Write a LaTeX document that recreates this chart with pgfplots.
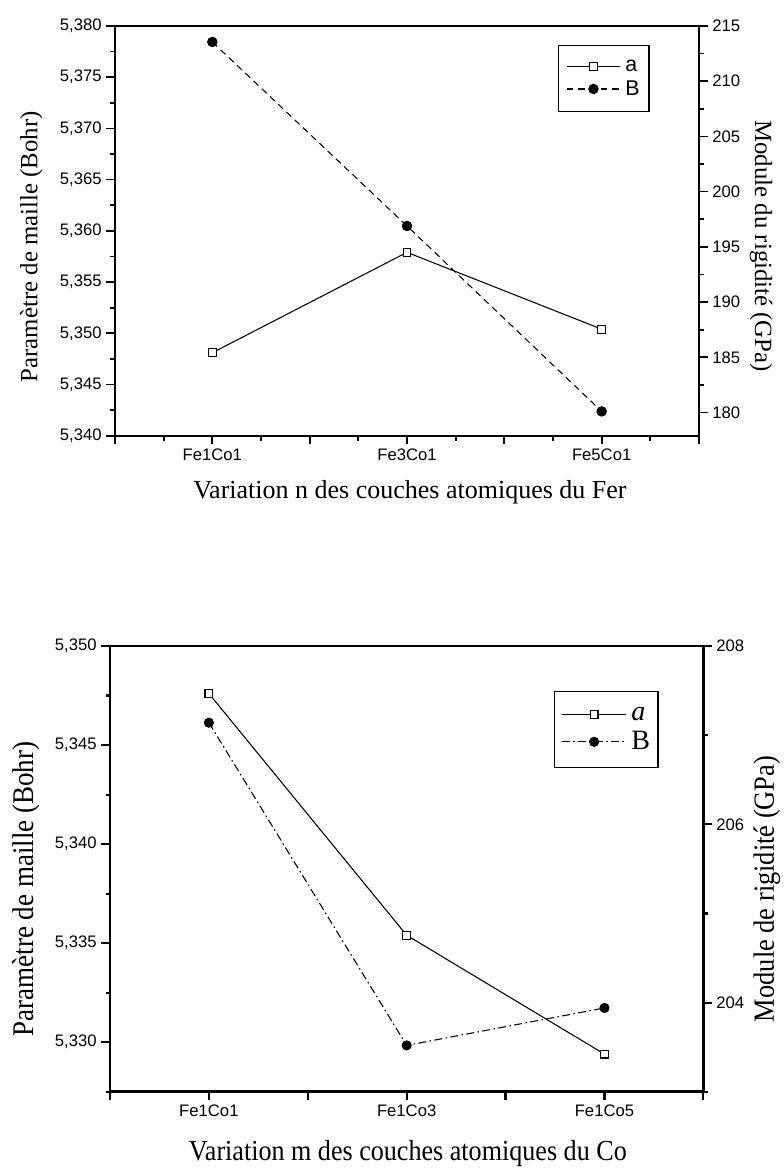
\documentclass[border=0pt]{standalone}
\usepackage{pgfplots}
\usepackage{pgfplotstable}
\usepackage{graphicx}
\usepackage{fontspec}
\pgfplotsset{compat=1.18}
\setmainfont{Liberation Serif}
\newfontfamily\arial{Liberation Sans}

% lattice parameter a (Bohr) and rigidity modulus B (GPa)
\pgfplotstableread{
x a      B
0 5.3481 213.55
1 5.3579 196.89
2 5.3504 180.10
}\fer
\pgfplotstableread{
x a      B
0 5.3476 207.14
1 5.3354 203.52
2 5.3294 203.94
}\cobalt

\pgfplotsset{
  every axis/.append style={
    scale only axis,
    xmin=-0.5, xmax=2.5,
    tick align=outside,
    clip=false,
    /pgf/number format/assume math mode=true,
    tick label style={font=\arial\fontsize{12.5}{12.5}\selectfont},
  },
  serA/.style={black, solid, line width=0.8pt, mark=square*,
    mark size=2.9pt, mark options={solid, fill=white, line width=0.8pt}},
  serBtop/.style={black, line width=0.8pt, dash pattern=on 5pt off 3.5pt,
    mark=*, mark size=3.5pt, mark options={solid, fill=black}},
  serBbot/.style={black, line width=0.8pt, dash pattern=on 6pt off 2.5pt on 1.2pt off 2.5pt,
    mark=*, mark size=3.4pt, mark options={solid, fill=black}},
  commaaxis/.style={yticklabel style={/pgf/number format/.cd, fixed, fixed zerofill, precision=3, use comma}},
}

\begin{document}
\begin{tikzpicture}
\path[use as bounding box] (0pt,0pt) rectangle (588pt,-876.75pt);

% ---------- upper panel: iron layers ----------
\begin{axis}[
  at={(86.25pt,-326.775pt)}, anchor=south west,
  width=438pt, height=307.3pt,
  ymin=5.340, ymax=5.380,
  ytick={5.340,5.345,...,5.3801},
  minor y tick num=1,
  xtick={-0.5,0,...,2.5},
  xticklabels={,Fe1Co1,,Fe3Co1,,Fe5Co1,},
  minor x tick num=1,
  xtick pos=bottom, ytick pos=left,
  major tick length=6.5pt, minor tick length=3.6pt,
  axis line style={line width=1.5pt},
  every tick/.style={black, line width=1.3pt},
  commaaxis,
  xlabel={Variation n des couches atomiques du Fer},
  xlabel style={font=\fontsize{19.5}{19.5}\selectfont, at={(axis description cs:0.505,-0.153)}, anchor=base},
  ylabel={Paramètre de maille (Bohr)},
  ylabel style={font=\fontsize{18.6}{18.6}\selectfont, at={(axis description cs:-0.133,0.461)}, anchor=base},
]
\addplot[serA] table[x=x, y=a] {\fer};
\end{axis}

\begin{axis}[
  at={(86.25pt,-326.775pt)}, anchor=south west,
  width=438pt, height=307.3pt,
  axis y line*=right, axis x line=none,
  ymin=177.9, ymax=215,
  ytick={180,185,...,215},
  minor y tick num=1,
  major tick length=6.5pt, minor tick length=3.6pt,
  axis line style={line width=1.5pt},
  every tick/.style={black, line width=1.3pt},
  ylabel={Module du rigidité (GPa)},
  ylabel style={font=\fontsize{18.6}{18.6}\selectfont, rotate=180, at={(axis description cs:1.096,0.4625)}, anchor=base},
  legend cell align=left,
  legend image code/.code={\draw[mark repeat=2,mark phase=2] plot coordinates {(0pt,0pt) (20pt,0pt) (40pt,0pt)};},
  legend style={at={(0.758,0.953)}, anchor=north west, draw=black, line width=0.9pt,
    font=\arial\fontsize{16}{16}\selectfont,
    inner xsep=6pt, inner ysep=9.5pt, row sep=3.5pt,
    nodes={inner sep=1pt},
    /tikz/every odd column/.append style={column sep=2.5pt}},
]
\addlegendimage{serA}
\addlegendentry{a}
\addplot[serBtop] table[x=x, y=B] {\fer};
\addlegendentry{B}
\end{axis}

% ---------- lower panel: cobalt layers ----------
\begin{axis}[
  at={(82.5pt,-818.8pt)}, anchor=south west,
  width=445pt, height=334.3pt,
  ymin=5.3275, ymax=5.350,
  ytick={5.330,5.335,...,5.3501},
  minor ytick={5.3275,5.3325,5.3375,5.3425,5.3475},
  xtick={-0.5,0,...,2.5},
  xticklabels={,Fe1Co1,,Fe1Co3,,Fe1Co5,},
  xtick pos=bottom, ytick pos=left,
  major tick length=6.5pt, minor tick length=3.3pt,
  axis line style={line width=1.9pt},
  every tick/.style={black, line width=1.6pt},
  commaaxis,
  xlabel={\scalebox{0.9}[1]{Variation m des couches atomiques du Co}},
  xlabel style={font=\fontsize{21.75}{21.75}\selectfont, at={(axis description cs:0.502,-0.155)}, anchor=base},
  ylabel={\scalebox{0.9}[1]{Paramètre de maille (Bohr)}},
  ylabel style={font=\fontsize{22.5}{22.5}\selectfont, at={(axis description cs:-0.129,0.455)}, anchor=base},
]
\addplot[serA] table[x=x, y=a] {\cobalt};
\end{axis}

\begin{axis}[
  at={(82.5pt,-818.8pt)}, anchor=south west,
  width=445pt, height=334.3pt,
  axis y line*=right, axis x line=none,
  ymin=203, ymax=208,
  ytick={204,206,208},
  minor ytick={203,205,207},
  major tick length=6.3pt, minor tick length=3.2pt,
  axis line style={line width=1.9pt},
  every tick/.style={black, line width=1.6pt},
  ylabel={\scalebox{0.9}[1]{Module de rigidité (GPa)}},
  ylabel style={font=\fontsize{22}{22}\selectfont, at={(axis description cs:1.119,0.455)}, anchor=base},
  legend cell align=left,
  legend image code/.code={\draw[mark repeat=2,mark phase=2] plot coordinates {(0pt,0pt) (24pt,0pt) (48pt,0pt)};},
  legend style={at={(0.749,0.900)}, anchor=north west, draw=black, line width=0.8pt,
    font=\fontsize{21}{21}\selectfont,
    inner xsep=5pt, inner ysep=11pt, row sep=5pt,
    nodes={inner sep=1pt},
    /tikz/every odd column/.append style={column sep=2.5pt}},
]
\addlegendimage{serA}
\addlegendentry{\textit{a}}
\addplot[serBbot] table[x=x, y=B] {\cobalt};
\addlegendentry{B}
\end{axis}
\end{tikzpicture}
\end{document}
